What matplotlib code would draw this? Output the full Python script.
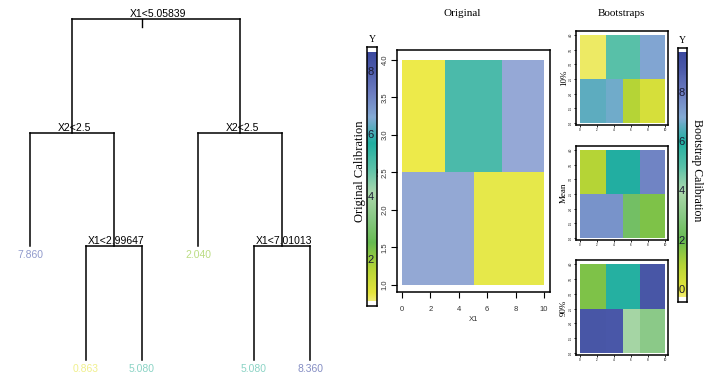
import numpy as np
import matplotlib
matplotlib.use("Agg")
import matplotlib.pyplot as plt
from matplotlib.colors import LinearSegmentedColormap, Normalize

# ---------------- data ----------------
tree = ("X1<5.05839",
        ("X2<2.5", 7.860, ("X1<2.99647", 0.863, 5.080)),
        ("X2<2.5", 2.040, ("X1<7.01013", 5.080, 8.360)))

x1_edges = [0, 2.99647, 5.05839, 7.01013, 10]
x2_edges = [1.0, 2.5, 4.0]
orig_values = [[7.860, 7.860, 2.040, 2.040],
               [0.863, 5.080, 5.080, 8.360]]

boot_x1_edges = [0, 3, 5, 7, 10]
boot_x2_edges = [1.0, 2.5, 4.0]
boot_labels = ["10%", "Mean", "90%"]
boot_10 = [[6.6, 6.8, 1.0, 0.3], [-0.2, 5.0, 5.0, 7.1]]
boot_mean = [[7.5, 7.5, 2.4, 1.7], [1.0, 6.0, 6.0, 7.8]]
boot_90 = [[9.1, 9.0, 3.8, 3.1], [1.7, 5.9, 5.9, 9.1]]

orig_x_ticks = [0, 2, 4, 6, 8, 10]
orig_y_ticks = [1.0, 1.5, 2.0, 2.5, 3.0, 3.5, 4.0]
orig_cbar_ticks = [2, 4, 6, 8]
boot_cbar_ticks = [0, 2, 4, 6, 8]

# ---------------- style ----------------
SANS = ['Liberation Sans', 'DejaVu Sans']
SERIF = ['Liberation Serif', 'DejaVu Serif']

pal_stops = [(0.00, '#F0EC72'), (0.03, '#E4E43C'), (0.131, '#B4D436'),
             (0.231, '#66BA50'), (0.332, '#88C884'), (0.432, '#ACD8AC'),
             (0.533, '#58C0A8'), (0.633, '#20AEA0'), (0.734, '#84AAD4'),
             (0.834, '#6C7CC0'), (0.935, '#4A58A8'), (1.00, '#3A489E')]
pal = LinearSegmentedColormap.from_list('pal', pal_stops)
boot_norm = Normalize(-0.3, 9.65)
orig_bar_norm = Normalize(0.69, 8.64)

tile_stops = [(0.0, '#EFEB4A'), (0.2, '#E5E84A'), (0.35, '#8CC860'),
              (0.47, '#A8D8B0'), (0.55, '#45B8AA'), (0.72, '#6FA8C8'),
              (0.88, '#93A8D4'), (1.0, '#98A8D8')]
tile_cmap = LinearSegmentedColormap.from_list('tile', tile_stops)
tile_norm = Normalize(0.5, 8.9)

W, H = 716, 386
fig = plt.figure(figsize=(W / 100, H / 100), dpi=100)

def fax(x0, y0, x1, y1):
    """axes from pixel box (top-left origin)"""
    return fig.add_axes([x0 / W, 1 - y1 / H, (x1 - x0) / W, (y1 - y0) / H])

# ---------------- tree ----------------
tax = fig.add_axes([0, 0, 1, 1])
tax.set_xlim(0, W)
tax.set_ylim(H, 0)
tax.axis('off')
LEAF_X0, LEAF_DX = 30, 56
LEVEL_Y0, LEVEL_DY = 19, 113.7

def draw(node, depth, counter):
    y = LEVEL_Y0 + depth * LEVEL_DY
    if not isinstance(node, tuple):
        x = LEAF_X0 + counter[0] * LEAF_DX
        counter[0] += 1
        tax.text(x, y + 9, f"{node:.3f}", ha='center', va='center', fontsize=7.5,
                 family=SANS, color=pal(orig_bar_norm(node)), alpha=0.65)
        return x
    lx = draw(node[1], depth + 1, counter)
    rx = draw(node[2], depth + 1, counter)
    yc = LEVEL_Y0 + (depth + 1) * LEVEL_DY
    tax.plot([lx, rx], [y, y], color='black', lw=1.1)
    tax.plot([lx, lx], [y, yc], color='black', lw=1.1)
    tax.plot([rx, rx], [y, yc], color='black', lw=1.1)
    x = (lx + rx) / 2
    tax.text(x + 2, y - 5, node[0], ha='center', va='center', fontsize=7.5,
             family=SANS, color='black')
    if depth == 0:
        tax.plot([x - 14, x - 14], [y, y + 8], color='black', lw=1)
    return x

draw(tree, 0, [0])

# ---------------- original heatmap ----------------
ax = fax(397, 50, 550, 292)
ax.pcolormesh(x1_edges, x2_edges, np.array(orig_values), cmap=tile_cmap, norm=tile_norm)
ax.set_xlim(-0.35, 10.42)
ax.set_ylim(0.907, 4.13)
ax.set_xticks(orig_x_ticks)
ax.set_xticklabels([str(t) for t in orig_x_ticks], family=SANS, fontsize=5.5, color='#333333')
ax.set_yticks(orig_y_ticks)
ax.set_yticklabels([f"{t:.1f}" for t in orig_y_ticks], family=SANS, fontsize=5.5,
                   color='#333333', rotation=90, va='center')
ax.tick_params(direction='out', length=4, width=0.8, pad=6)
ax.tick_params(axis='y', pad=2)
for s in ax.spines.values():
    s.set_linewidth(1.1)
ax.set_xlabel('X1', family=SANS, fontsize=5.5, labelpad=2, color='#333333')
ax.set_ylabel('X2', family=SANS, fontsize=5.5, labelpad=0.5, color='#333333')

# colorbars
def colorbar(box, norm, lim, ticks):
    cax = fax(*box)
    vals = np.linspace(norm.vmin, norm.vmax, 256)
    cax.pcolormesh([0, 1], vals, vals[:-1, None], cmap=pal, norm=norm)
    cax.set_xlim(0, 1)
    cax.set_ylim(*lim)
    cax.set_xticks([])
    cax.set_yticks([])
    for s in cax.spines.values():
        s.set_linewidth(1.1)
    for t in ticks:
        cax.text(0.38, t, str(t), ha='center', va='center', fontsize=8,
                 family=SANS, color='#1a1a33', transform=cax.get_yaxis_transform())
    cax.text(0.5, 1.01, 'Y', ha='center', va='bottom', fontsize=7, family=SERIF,
             transform=cax.transAxes)
    return cax

colorbar((367, 47, 377, 306), orig_bar_norm, (0.53, 8.8), orig_cbar_ticks)
fig.text(360 / W, 1 - 171 / H, 'Original Calibration', rotation=90, ha='center',
         va='center', fontsize=9, family=SERIF)

colorbar((678, 48, 687, 302), boot_norm, (-0.49, 9.83), boot_cbar_ticks)
fig.text(697 / W, 1 - 170 / H, 'Bootstrap Calibration', rotation=270, ha='center',
         va='center', fontsize=8.5, family=SERIF)

fig.text(462 / W, 1 - 13 / H, 'Original', ha='center', va='center', fontsize=8, family=SERIF)
fig.text(621 / W, 1 - 13 / H, 'Bootstraps', ha='center', va='center', fontsize=8, family=SERIF)

# ---------------- bootstrap panels ----------------
boxes = [(576, 31, 668, 125), (576, 146, 668, 240), (576, 260, 668, 355)]
for box, lab, vals in zip(boxes, boot_labels, [boot_10, boot_mean, boot_90]):
    bax = fax(*box)
    bax.pcolormesh(boot_x1_edges, boot_x2_edges, np.array(vals), cmap=pal, norm=boot_norm)
    bax.set_xlim(-0.47, 10.35)
    bax.set_ylim(0.93, 4.14)
    bax.set_xticks(orig_x_ticks)
    bax.set_xticklabels([str(t) for t in orig_x_ticks], fontsize=2.2, family=SANS)
    bax.set_yticks(orig_y_ticks)
    bax.set_yticklabels([f"{t:.1f}" for t in orig_y_ticks], fontsize=2.2, family=SANS,
                        rotation=90, va='center')
    bax.tick_params(direction='out', length=1.5, width=0.6, pad=1)
    for s in bax.spines.values():
        s.set_linewidth(1.1)
    cy = (box[1] + box[3]) / 2
    fig.text(564 / W, 1 - cy / H, lab, rotation=90, ha='center', va='center',
             fontsize=6.5, family=SERIF)

fig.savefig('out.png', dpi=100)
